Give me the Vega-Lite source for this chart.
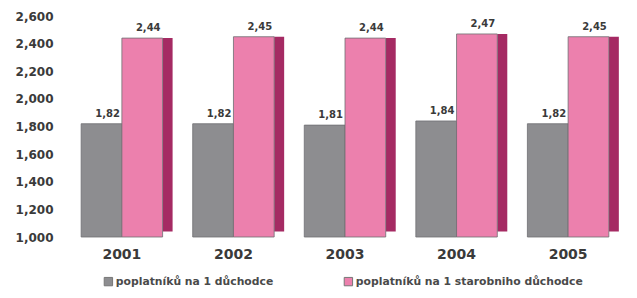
{
  "$schema": "https://vega.github.io/schema/vega-lite/v6.json",
  "width": 550,
  "height": 221,
  "autosize": {"type": "none"},
  "padding": {"left": 70, "top": 16, "right": 17, "bottom": 61},
  "background": "white",
  "config": {
    "view": {"stroke": null},
    "font": "DejaVu Sans",
    "axis": {"grid": false, "domain": false, "ticks": false}
  },
  "data": {
    "values": [
      {"year": "2001", "series": "poplatníků na 1 důchodce", "value": 1820, "label": "1,82"},
      {"year": "2001", "series": "poplatníků na 1 starobniho důchodce", "value": 2440, "label": "2,44"},
      {"year": "2002", "series": "poplatníků na 1 důchodce", "value": 1820, "label": "1,82"},
      {"year": "2002", "series": "poplatníků na 1 starobniho důchodce", "value": 2450, "label": "2,45"},
      {"year": "2003", "series": "poplatníků na 1 důchodce", "value": 1810, "label": "1,81"},
      {"year": "2003", "series": "poplatníků na 1 starobniho důchodce", "value": 2440, "label": "2,44"},
      {"year": "2004", "series": "poplatníků na 1 důchodce", "value": 1840, "label": "1,84"},
      {"year": "2004", "series": "poplatníků na 1 starobniho důchodce", "value": 2470, "label": "2,47"},
      {"year": "2005", "series": "poplatníků na 1 důchodce", "value": 1820, "label": "1,82"},
      {"year": "2005", "series": "poplatníků na 1 starobniho důchodce", "value": 2450, "label": "2,45"}
    ]
  },
  "encoding": {
    "x": {
      "field": "year", "type": "nominal",
      "scale": {"paddingInner": 0.27, "paddingOuter": 0.1},
      "axis": {"title": null, "labelAngle": 0, "labelFontSize": 14, "labelFontWeight": "bold", "labelColor": "#3a3a3a", "labelPadding": 10}
    },
    "y": {
      "field": "value", "type": "quantitative",
      "scale": {"domain": [1000, 2600], "zero": false, "nice": false},
      "axis": {"title": null, "values": [1000, 1200, 1400, 1600, 1800, 2000, 2200, 2400, 2600], "format": ",d", "labelFontSize": 12, "labelFontWeight": "bold", "labelColor": "#3a3a3a", "labelPadding": 17}
    }
  },
  "layer": [
    {
      "transform": [{"filter": "datum.series === 'poplatníků na 1 starobniho důchodce'"}],
      "mark": {"type": "rule", "strokeWidth": 10, "xOffset": 5, "color": "#a52a63"},
      "encoding": {
        "x": {"field": "year", "type": "nominal", "bandPosition": 1},
        "y": {"field": "value", "type": "quantitative"},
        "y2": {"datum": 1040}
      }
    },
    {
      "mark": {"type": "bar", "stroke": "#6f6f72", "strokeWidth": 0.8},
      "encoding": {
        "xOffset": {"field": "series", "type": "nominal", "scale": {"paddingInner": 0, "paddingOuter": 0}},
        "y2": {"datum": 1000},
        "color": {
          "field": "series", "type": "nominal",
          "scale": {"domain": ["poplatníků na 1 důchodce", "poplatníků na 1 starobniho důchodce"], "range": ["#8d8d90", "#ec80ad"]},
          "legend": {
            "title": null, "orient": "none", "direction": "horizontal",
            "legendX": 33, "legendY": 260,
            "symbolType": "square", "symbolSize": 70, "symbolStrokeColor": "#777777", "symbolStrokeWidth": 1,
            "labelFontSize": 10.8, "labelFontWeight": "bold", "labelColor": "#4a4a4a", "labelLimit": 0,
            "columnPadding": 68, "labelOffset": 2
          }
        }
      }
    },
    {
      "mark": {"type": "text", "fontSize": 10, "fontWeight": "bold", "color": "#3a3a3a", "dy": -10, "dx": 6},
      "encoding": {
        "xOffset": {"field": "series", "type": "nominal"},
        "text": {"field": "label"}
      }
    }
  ]
}
